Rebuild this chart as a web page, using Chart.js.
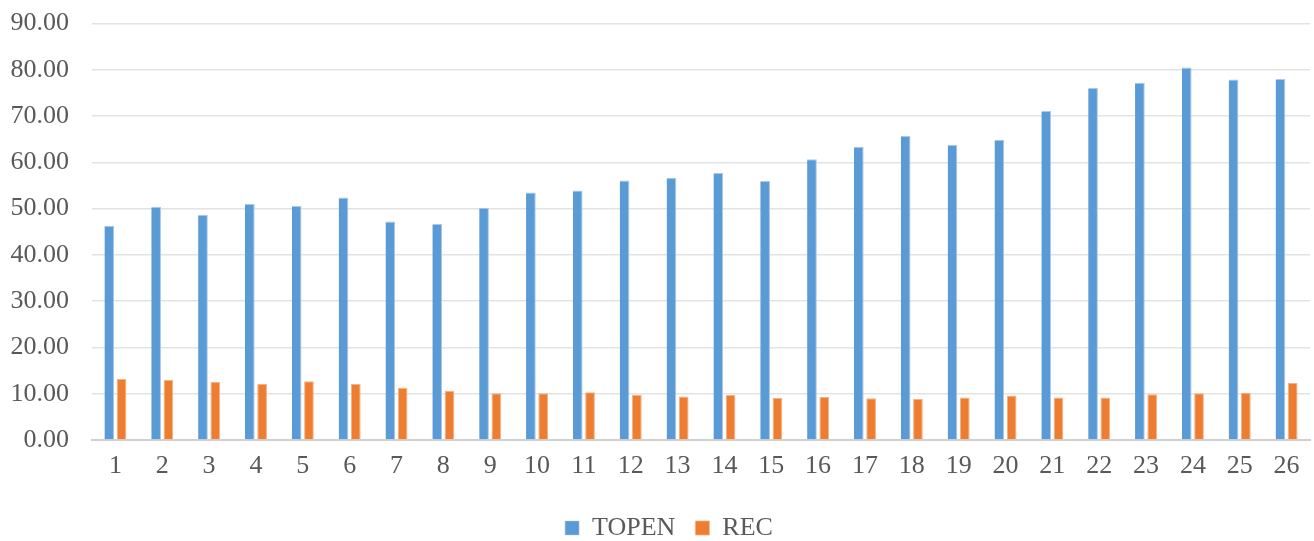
<!DOCTYPE html>
<html>
<head>
<meta charset="utf-8">
<script src="https://cdn.jsdelivr.net/npm/chart.js@4.4.0/dist/chart.umd.min.js"></script>
<style>
    html, body { margin: 0; padding: 0; background: #ffffff; overflow: hidden; }
    #outer { width: 1314px; height: 541px; position: relative; overflow: hidden; }
    /* canvas pulled up a bit so the plot top sits where the reference has it */
    #wrap { width: 1314px; height: 556px; position: absolute; left: 0; top: -15px; }
</style>
</head>
<body>
<div id="outer"><div id="wrap"><canvas id="chart"></canvas></div></div>
<script>
// Categories (1..26)
var categories = ['1', '2', '3', '4', '5', '6', '7', '8', '9', '10', '11', '12', '13',
    '14', '15', '16', '17', '18', '19', '20', '21', '22', '23', '24', '25', '26'];

// Series values
var topenValues = [46.3, 50.4, 48.7, 51.0, 50.6, 52.4, 47.2, 46.7, 50.2, 53.5, 53.9, 56.1, 56.7,
    57.7, 56.0, 60.7, 63.4, 65.7, 63.8, 64.9, 71.1, 76.1, 77.2, 80.5, 77.9, 78.0];
var recValues = [13.2, 13.0, 12.6, 12.1, 12.7, 12.1, 11.3, 10.6, 10.1, 10.1, 10.3, 9.8, 9.4,
    9.7, 9.1, 9.3, 9.0, 8.9, 9.2, 9.6, 9.2, 9.2, 9.9, 10.1, 10.2, 12.3];

// Y axis ticks
var yTicks = [0, 10, 20, 30, 40, 50, 60, 70, 80, 90];

var textColor = '#595959';
var fontFamily = '"Liberation Serif", "Times New Roman", serif';

// legend sits a little right of centre in the reference
var shiftLegend = {
    id: 'shiftLegend',
    afterLayout: function (chart) {
        if (chart.legend) {
            chart.legend.left += 14;
            chart.legend.right += 14;
        }
    }
};

var ctx = document.getElementById('chart').getContext('2d');
new Chart(ctx, {
    type: 'bar',
    data: {
        labels: categories,
        datasets: [{
            label: 'TOPEN',
            data: topenValues,
            backgroundColor: '#5b9bd5',
            borderColor: '#a9c8ea',
            borderWidth: { top: 1, left: 0, right: 1, bottom: 0 },
            categoryPercentage: 0.525,
            barPercentage: 0.79
        }, {
            label: 'REC',
            data: recValues,
            backgroundColor: '#ed7d31',
            borderColor: '#f4b183',
            borderWidth: { top: 1, left: 1, right: 1, bottom: 0 },
            categoryPercentage: 0.525,
            barPercentage: 0.79
        }]
    },
    options: {
        responsive: true,
        maintainAspectRatio: false,
        animation: false,
        layout: {
            padding: { left: 0, right: 4, top: 0, bottom: -10 }
        },
        scales: {
            x: {
                grid: { display: false, drawTicks: false },
                border: { display: true, color: '#d0d0d0', width: 2 },
                ticks: {
                    color: textColor,
                    font: { family: fontFamily, size: 26 },
                    padding: 11,
                    maxRotation: 0
                },
                afterFit: function (scale) { scale.height = 55; }
            },
            y: {
                min: 0,
                max: 90,
                afterBuildTicks: function (scale) {
                    scale.ticks = yTicks.map(v => ({ value: v }));
                },
                grid: { color: '#e3e3e3', lineWidth: 1.5, drawTicks: false },
                border: { display: false },
                ticks: {
                    color: textColor,
                    font: { family: fontFamily, size: 26 },
                    padding: 23,
                    callback: function (v) { return Number(v).toFixed(2); }
                },
                afterFit: function (scale) { scale.width = 92; }
            }
        },
        plugins: {
            legend: {
                position: 'bottom',
                labels: {
                    color: textColor,
                    font: { family: fontFamily, size: 26 },
                    boxWidth: 14,
                    boxHeight: 14,
                    padding: 20
                }
            },
            tooltip: { enabled: false }
        }
    },
    plugins: [shiftLegend]
});
</script>
</body>
</html>
